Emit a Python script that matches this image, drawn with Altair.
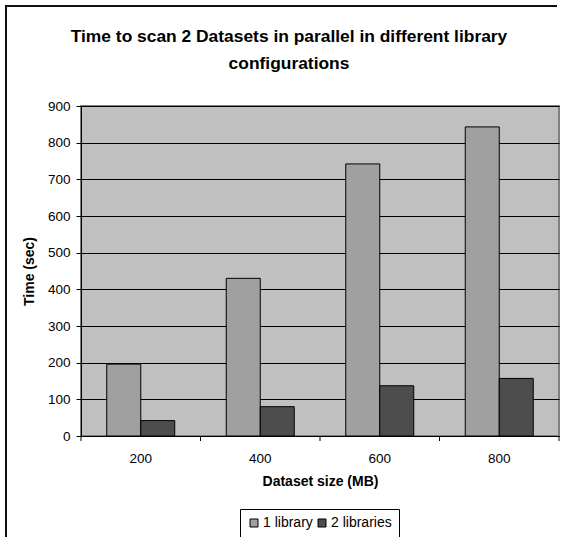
import altair as alt
import pandas as pd

sizes = ["200", "400", "600", "800"]
series = ["1 library", "2 libraries"]
one_library = [196, 430, 742, 843]
two_libraries = [42, 80, 137, 157]
y_ticks = list(range(0, 901, 100))
boundaries = [0, 1, 2, 3, 4]

rows = []
for s, a, b in zip(sizes, one_library, two_libraries):
    rows.append({"size": s, "series": series[0], "time": a})
    rows.append({"size": s, "series": series[1], "time": b})
df = pd.DataFrame(rows)

W, H = 478, 330
FONT = "Liberation Sans"

bars = alt.Chart(df).mark_bar(stroke="black", strokeWidth=1).encode(
    x=alt.X("size:N", sort=sizes,
            scale=alt.Scale(paddingInner=0.431, paddingOuter=0.2155),
            axis=alt.Axis(title="Dataset size (MB)", labelAngle=0, ticks=False,
                          labelFontSize=13.5, labelPadding=15, labelColor="black",
                          titleFontSize=14, titleFontWeight="bold", titleColor="black",
                          titlePadding=10, domainColor="black", domainWidth=1)),
    xOffset=alt.XOffset("series:N", sort=series,
                        scale=alt.Scale(paddingInner=0, paddingOuter=0)),
    y=alt.Y("time:Q", scale=alt.Scale(domain=[0, 900], nice=False),
            axis=alt.Axis(title="Time (sec)", values=y_ticks, grid=True, gridColor="black",
                          gridOpacity=1, gridWidth=1, tickColor="black", tickSize=5,
                          labelFontSize=13.5, labelPadding=6, labelColor="black",
                          titleFontSize=14, titleFontWeight="bold", titleColor="black",
                          titlePadding=11, domainColor="black", domainWidth=1)),
    color=alt.Color("series:N", sort=series,
                    scale=alt.Scale(domain=series, range=["#a0a0a0", "#4d4d4d"]),
                    legend=alt.Legend(title=None, orient="none", legendX=159, legendY=403,
                                      direction="horizontal", strokeColor="black",
                                      padding=7, symbolType="square", symbolSize=64,
                                      symbolStrokeColor="black", symbolStrokeWidth=1,
                                      labelFontSize=14, labelColor="black",
                                      labelOffset=2, columnPadding=2)),
)

ticks = alt.Chart(pd.DataFrame({"b": boundaries})).mark_rule(color="black").encode(
    x=alt.X("b:Q", scale=alt.Scale(domain=[0, 4], nice=False), axis=None),
    y=alt.value(H), y2=alt.value(H + 5),
)

frame_df = pd.DataFrame({"k": [0]})
left_line = alt.Chart(frame_df).mark_rule(color="#111", strokeWidth=2).encode(
    x=alt.value(-75), y=alt.value(-101), y2=alt.value(H + 101))
top_line = alt.Chart(frame_df).mark_rule(color="#111", strokeWidth=2).encode(
    x=alt.value(-75), x2=alt.value(476), y=alt.value(-100))

chart = alt.layer(bars, ticks, left_line, top_line).resolve_scale(x="independent").properties(
    width=W, height=H,
    title=alt.TitleParams(
        text=["Time to scan 2 Datasets in parallel in different library", "configurations"],
        anchor="middle", frame="group", fontSize=17.4, fontWeight="bold", font=FONT,
        color="black", dx=-31, dy=102, offset=34, lineHeight=27),
    autosize=alt.AutoSizeParams(type="none"),
    padding={"left": 81, "top": 106, "right": 7, "bottom": 101},
).configure(font=FONT, background="white").configure_view(
    fill="#c0c0c0", stroke="#808080", strokeWidth=2
).configure_axis(labelFont=FONT, titleFont=FONT).configure_legend(labelFont=FONT)

chart.save("out.html", embed_options={"renderer": "svg", "actions": False})
